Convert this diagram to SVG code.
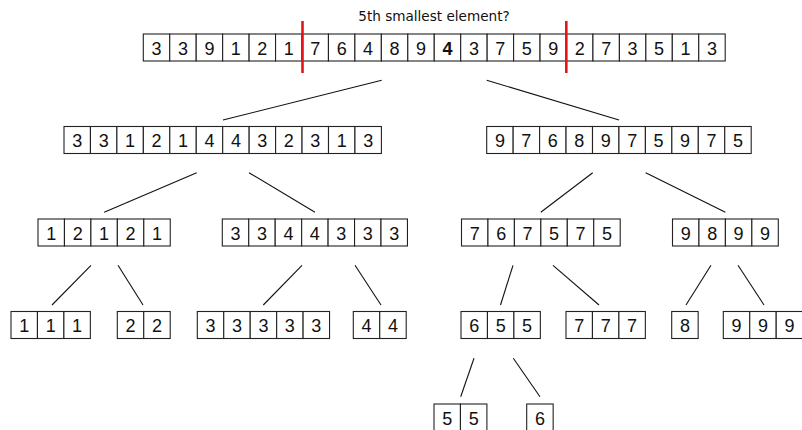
<svg xmlns="http://www.w3.org/2000/svg" width="802" height="430" viewBox="0 0 802 430">
<style>
.c{fill:#fff;stroke:#222;stroke-width:1.1}
.n{font-family:"Liberation Sans",Arial,sans-serif;font-size:18px;fill:#111;text-anchor:middle}
.b{font-weight:bold}
.t{font-family:"DejaVu Sans",sans-serif;font-size:13.6px;fill:#111;text-anchor:middle}
.e{stroke:#111;stroke-width:1.1;fill:none}
.r{stroke:#e8141a;stroke-width:2.6}
</style>
<rect width="802" height="430" fill="#fff"/>
<g id="connectors">
<line class="e" x1="381.7" y1="80.3" x2="223" y2="120"/>
<line class="e" x1="486.7" y1="80.3" x2="619" y2="120"/>
<line class="e" x1="196.7" y1="172.7" x2="104.2" y2="212.3"/>
<line class="e" x1="249" y1="172.7" x2="315" y2="212.3"/>
<line class="e" x1="592.7" y1="172.7" x2="540.8" y2="212.3"/>
<line class="e" x1="645.7" y1="172.7" x2="725.4" y2="212.3"/>
<line class="e" x1="91" y1="265.3" x2="52" y2="305"/>
<line class="e" x1="118" y1="265.3" x2="143" y2="305"/>
<line class="e" x1="302" y1="265.3" x2="263.3" y2="305"/>
<line class="e" x1="355" y1="265.3" x2="381" y2="305"/>
<line class="e" x1="513" y1="265.3" x2="500.5" y2="305"/>
<line class="e" x1="553" y1="265.3" x2="599" y2="305"/>
<line class="e" x1="711" y1="265.3" x2="686" y2="305"/>
<line class="e" x1="738" y1="265.3" x2="764" y2="305"/>
<line class="e" x1="474" y1="358.3" x2="460.7" y2="396.7"/>
<line class="e" x1="513.3" y1="358.3" x2="540" y2="396.7"/>
</g>
<g id="root">
<text class="t" x="434" y="20.5">5th smallest element?</text>
<rect class="c" x="143.3" y="34" width="26.45" height="27"/><rect class="c" x="169.75" y="34" width="26.45" height="27"/><rect class="c" x="196.2" y="34" width="26.45" height="27"/><rect class="c" x="222.65" y="34" width="26.45" height="27"/><rect class="c" x="249.1" y="34" width="26.45" height="27"/><rect class="c" x="275.55" y="34" width="26.45" height="27"/><rect class="c" x="302" y="34" width="26.45" height="27"/><rect class="c" x="328.45" y="34" width="26.45" height="27"/><rect class="c" x="354.9" y="34" width="26.45" height="27"/><rect class="c" x="381.35" y="34" width="26.45" height="27"/><rect class="c" x="407.8" y="34" width="26.45" height="27"/><rect class="c" x="434.25" y="34" width="26.45" height="27"/><rect class="c" x="460.7" y="34" width="26.45" height="27"/><rect class="c" x="487.15" y="34" width="26.45" height="27"/><rect class="c" x="513.6" y="34" width="26.45" height="27"/><rect class="c" x="540.05" y="34" width="26.45" height="27"/><rect class="c" x="566.5" y="34" width="26.45" height="27"/><rect class="c" x="592.95" y="34" width="26.45" height="27"/><rect class="c" x="619.4" y="34" width="26.45" height="27"/><rect class="c" x="645.85" y="34" width="26.45" height="27"/><rect class="c" x="672.3" y="34" width="26.45" height="27"/><rect class="c" x="698.75" y="34" width="26.45" height="27"/>
<text class="n" y="54.8"><tspan x="156.53">3</tspan><tspan x="182.98">3</tspan><tspan x="209.43">9</tspan><tspan x="235.88">1</tspan><tspan x="262.33">2</tspan><tspan x="288.78">1</tspan><tspan x="315.23">7</tspan><tspan x="341.68">6</tspan><tspan x="368.13">4</tspan><tspan x="394.58">8</tspan><tspan x="421.03">9</tspan><tspan x="447.48" class="b">4</tspan><tspan x="473.93">3</tspan><tspan x="500.38">7</tspan><tspan x="526.83">5</tspan><tspan x="553.28">9</tspan><tspan x="579.73">2</tspan><tspan x="606.18">7</tspan><tspan x="632.63">3</tspan><tspan x="659.08">5</tspan><tspan x="685.53">1</tspan><tspan x="711.98">3</tspan></text>
<line class="r" x1="302.5" y1="21" x2="302.5" y2="73"/>
<line class="r" x1="566.3" y1="21" x2="566.3" y2="73"/>
</g>
<g id="n-L">
<rect class="c" x="64" y="126.5" width="26.45" height="27"/><rect class="c" x="90.45" y="126.5" width="26.45" height="27"/><rect class="c" x="116.9" y="126.5" width="26.45" height="27"/><rect class="c" x="143.35" y="126.5" width="26.45" height="27"/><rect class="c" x="169.8" y="126.5" width="26.45" height="27"/><rect class="c" x="196.25" y="126.5" width="26.45" height="27"/><rect class="c" x="222.7" y="126.5" width="26.45" height="27"/><rect class="c" x="249.15" y="126.5" width="26.45" height="27"/><rect class="c" x="275.6" y="126.5" width="26.45" height="27"/><rect class="c" x="302.05" y="126.5" width="26.45" height="27"/><rect class="c" x="328.5" y="126.5" width="26.45" height="27"/><rect class="c" x="354.95" y="126.5" width="26.45" height="27"/>
<text class="n" y="147.3"><tspan x="77.23">3</tspan><tspan x="103.68">3</tspan><tspan x="130.13">1</tspan><tspan x="156.58">2</tspan><tspan x="183.03">1</tspan><tspan x="209.48">4</tspan><tspan x="235.93">4</tspan><tspan x="262.38">3</tspan><tspan x="288.83">2</tspan><tspan x="315.28">3</tspan><tspan x="341.73">1</tspan><tspan x="368.18">3</tspan></text>
</g>
<g id="n-R">
<rect class="c" x="486.7" y="126.5" width="26.45" height="27"/><rect class="c" x="513.15" y="126.5" width="26.45" height="27"/><rect class="c" x="539.6" y="126.5" width="26.45" height="27"/><rect class="c" x="566.05" y="126.5" width="26.45" height="27"/><rect class="c" x="592.5" y="126.5" width="26.45" height="27"/><rect class="c" x="618.95" y="126.5" width="26.45" height="27"/><rect class="c" x="645.4" y="126.5" width="26.45" height="27"/><rect class="c" x="671.85" y="126.5" width="26.45" height="27"/><rect class="c" x="698.3" y="126.5" width="26.45" height="27"/><rect class="c" x="724.75" y="126.5" width="26.45" height="27"/>
<text class="n" y="147.3"><tspan x="499.93">9</tspan><tspan x="526.38">7</tspan><tspan x="552.83">6</tspan><tspan x="579.28">8</tspan><tspan x="605.73">9</tspan><tspan x="632.18">7</tspan><tspan x="658.63">5</tspan><tspan x="685.08">9</tspan><tspan x="711.53">7</tspan><tspan x="737.98">5</tspan></text>
</g>
<g id="n-LL">
<rect class="c" x="38" y="219" width="26.45" height="27"/><rect class="c" x="64.45" y="219" width="26.45" height="27"/><rect class="c" x="90.9" y="219" width="26.45" height="27"/><rect class="c" x="117.35" y="219" width="26.45" height="27"/><rect class="c" x="143.8" y="219" width="26.45" height="27"/>
<text class="n" y="239.8"><tspan x="51.23">1</tspan><tspan x="77.68">2</tspan><tspan x="104.13">1</tspan><tspan x="130.58">2</tspan><tspan x="157.03">1</tspan></text>
</g>
<g id="n-LR">
<rect class="c" x="222.3" y="219" width="26.45" height="27"/><rect class="c" x="248.75" y="219" width="26.45" height="27"/><rect class="c" x="275.2" y="219" width="26.45" height="27"/><rect class="c" x="301.65" y="219" width="26.45" height="27"/><rect class="c" x="328.1" y="219" width="26.45" height="27"/><rect class="c" x="354.55" y="219" width="26.45" height="27"/><rect class="c" x="381" y="219" width="26.45" height="27"/>
<text class="n" y="239.8"><tspan x="235.53">3</tspan><tspan x="261.98">3</tspan><tspan x="288.43">4</tspan><tspan x="314.88">4</tspan><tspan x="341.33">3</tspan><tspan x="367.78">3</tspan><tspan x="394.23">3</tspan></text>
</g>
<g id="n-RL">
<rect class="c" x="461.5" y="219" width="26.45" height="27"/><rect class="c" x="487.95" y="219" width="26.45" height="27"/><rect class="c" x="514.4" y="219" width="26.45" height="27"/><rect class="c" x="540.85" y="219" width="26.45" height="27"/><rect class="c" x="567.3" y="219" width="26.45" height="27"/><rect class="c" x="593.75" y="219" width="26.45" height="27"/>
<text class="n" y="239.8"><tspan x="474.73">7</tspan><tspan x="501.18">6</tspan><tspan x="527.63">7</tspan><tspan x="554.08">5</tspan><tspan x="580.53">7</tspan><tspan x="606.98">5</tspan></text>
</g>
<g id="n-RR">
<rect class="c" x="672.5" y="219" width="26.45" height="27"/><rect class="c" x="698.95" y="219" width="26.45" height="27"/><rect class="c" x="725.4" y="219" width="26.45" height="27"/><rect class="c" x="751.85" y="219" width="26.45" height="27"/>
<text class="n" y="239.8"><tspan x="685.73">9</tspan><tspan x="712.18">8</tspan><tspan x="738.63">9</tspan><tspan x="765.08">9</tspan></text>
</g>
<g id="n-LLL">
<rect class="c" x="11" y="311.5" width="26.45" height="27"/><rect class="c" x="37.45" y="311.5" width="26.45" height="27"/><rect class="c" x="63.9" y="311.5" width="26.45" height="27"/>
<text class="n" y="332.3"><tspan x="24.23">1</tspan><tspan x="50.68">1</tspan><tspan x="77.13">1</tspan></text>
</g>
<g id="n-LLR">
<rect class="c" x="117.3" y="311.5" width="26.45" height="27"/><rect class="c" x="143.75" y="311.5" width="26.45" height="27"/>
<text class="n" y="332.3"><tspan x="130.53">2</tspan><tspan x="156.98">2</tspan></text>
</g>
<g id="n-LRL">
<rect class="c" x="197.3" y="311.5" width="26.45" height="27"/><rect class="c" x="223.75" y="311.5" width="26.45" height="27"/><rect class="c" x="250.2" y="311.5" width="26.45" height="27"/><rect class="c" x="276.65" y="311.5" width="26.45" height="27"/><rect class="c" x="303.1" y="311.5" width="26.45" height="27"/>
<text class="n" y="332.3"><tspan x="210.53">3</tspan><tspan x="236.98">3</tspan><tspan x="263.43">3</tspan><tspan x="289.88">3</tspan><tspan x="316.33">3</tspan></text>
</g>
<g id="n-LRR">
<rect class="c" x="353.3" y="311.5" width="26.45" height="27"/><rect class="c" x="379.75" y="311.5" width="26.45" height="27"/>
<text class="n" y="332.3"><tspan x="366.53">4</tspan><tspan x="392.98">4</tspan></text>
</g>
<g id="n-RLL">
<rect class="c" x="461" y="311.5" width="26.45" height="27"/><rect class="c" x="487.45" y="311.5" width="26.45" height="27"/><rect class="c" x="513.9" y="311.5" width="26.45" height="27"/>
<text class="n" y="332.3"><tspan x="474.23">6</tspan><tspan x="500.68">5</tspan><tspan x="527.13">5</tspan></text>
</g>
<g id="n-RLR">
<rect class="c" x="566" y="311.5" width="26.45" height="27"/><rect class="c" x="592.45" y="311.5" width="26.45" height="27"/><rect class="c" x="618.9" y="311.5" width="26.45" height="27"/>
<text class="n" y="332.3"><tspan x="579.23">7</tspan><tspan x="605.68">7</tspan><tspan x="632.13">7</tspan></text>
</g>
<g id="n-RRL">
<rect class="c" x="671.7" y="311.5" width="26.45" height="27"/>
<text class="n" y="332.3"><tspan x="684.93">8</tspan></text>
</g>
<g id="n-RRR">
<rect class="c" x="723.3" y="311.5" width="26.45" height="27"/><rect class="c" x="749.75" y="311.5" width="26.45" height="27"/><rect class="c" x="776.2" y="311.5" width="26.45" height="27"/>
<text class="n" y="332.3"><tspan x="736.53">9</tspan><tspan x="762.98">9</tspan><tspan x="789.43">9</tspan></text>
</g>
<g id="n-RLLL">
<rect class="c" x="434" y="404" width="26.45" height="27"/><rect class="c" x="460.45" y="404" width="26.45" height="27"/>
<text class="n" y="424.8"><tspan x="447.23">5</tspan><tspan x="473.68">5</tspan></text>
</g>
<g id="n-RLLR">
<rect class="c" x="526.7" y="404" width="26.45" height="27"/>
<text class="n" y="424.8"><tspan x="539.93">6</tspan></text>
</g>
</svg>
